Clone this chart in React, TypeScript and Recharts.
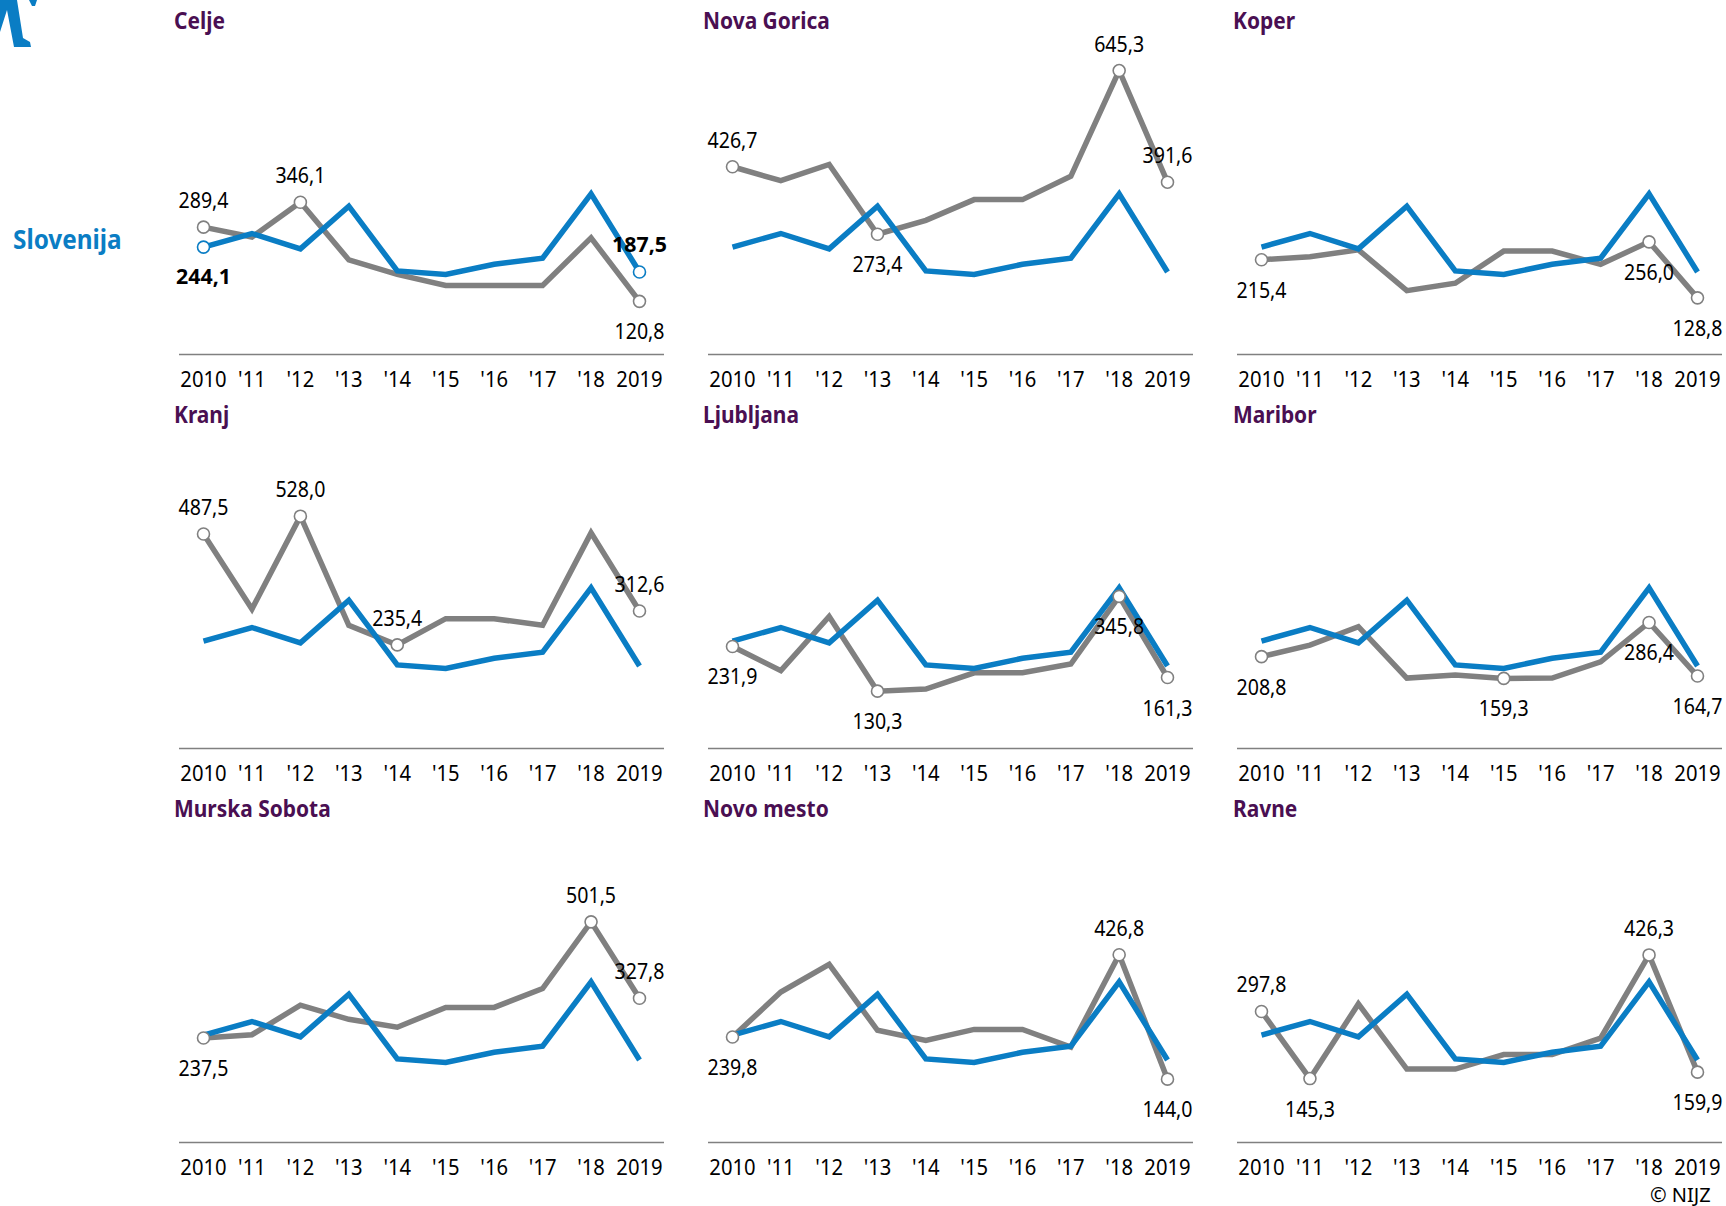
import { LineChart, Line, XAxis, YAxis } from "recharts";

const FONT = "'Noto Sans', sans-serif";
const GRAY = "#808080";
const BLUE = "#0a7dc4";
const PURPLE = "#4a0f52";

// Tick labels for the x axis
const yearLabels = ["2010", "'11", "'12", "'13", "'14", "'15", "'16", "'17", "'18", "2019"];

// Slovenian average, same in all panels
const slovenija = [244.1, 275, 240, 337, 190, 182, 205, 219, 365, 187.5];

// Regional values
const celje = [289.4, 267, 346.1, 215, 182, 157, 157, 157, 265, 120.8];
const novaGorica = [426.7, 395, 432, 273.4, 305, 352, 352, 405, 645.3, 391.6];
const koper = [215.4, 222, 238, 145, 162, 235, 235, 205, 256.0, 128.8];
const kranj = [487.5, 317, 528.0, 280, 235.4, 295, 295, 280, 490, 312.6];
const ljubljana = [231.9, 177, 300, 130.3, 135, 172, 172, 192, 345.8, 161.3];
const maribor = [208.8, 235, 277, 160, 167, 159.3, 160, 197, 286.4, 164.7];
const murskaSobota = [237.5, 245, 312, 280, 262, 307, 307, 350, 501.5, 327.8];
const novoMesto = [239.8, 342, 405, 255, 232, 257, 257, 217, 426.8, 144.0];
const ravne = [297.8, 145.3, 315, 167, 167, 200, 200, 237, 426.3, 159.9];

// Which points get a marker, and whether the label sits above or below
const panels = [
  { name: "Celje", values: celje, above: [0, 2], below: [9] },
  { name: "Nova Gorica", values: novaGorica, above: [0, 8, 9], below: [3] },
  { name: "Koper", values: koper, above: [], below: [0, 8, 9] },
  { name: "Kranj", values: kranj, above: [0, 2, 4, 9], below: [] },
  { name: "Ljubljana", values: ljubljana, above: [], below: [0, 3, 8, 9] },
  { name: "Maribor", values: maribor, above: [], below: [0, 5, 8, 9] },
  { name: "Murska Sobota", values: murskaSobota, above: [8, 9], below: [0] },
  { name: "Novo mesto", values: novoMesto, above: [8], below: [0, 9] },
  { name: "Ravne", values: ravne, above: [0, 8], below: [1, 9] },
];

const formatValue = (v: number) => v.toFixed(1).replace(".", ",");

const renderDot = (marked: number[], color: string) => (props: any) => {
  if (!marked.includes(props.index)) return <g key={props.index} />;
  return (
    <circle
      key={props.index}
      cx={props.cx}
      cy={props.cy}
      r={6}
      fill="#fff"
      stroke={color}
      strokeWidth={1.6}
    />
  );
};

const renderLabel = (above: number[], below: number[], bold: boolean) => (props: any) => {
  const isAbove = above.includes(props.index);
  if (!isAbove && !below.includes(props.index)) return <g key={props.index} />;
  const baseline = props.y + (isAbove ? (bold ? -20 : -19) : bold ? 37 : 38);
  return (
    <text
      key={props.index}
      transform={`translate(${props.x},${baseline}) scale(${bold ? 0.97 : 0.89},1)`}
      textAnchor="middle"
      fontFamily={FONT}
      fontSize={22}
      fontWeight={bold ? 700 : 400}
      fill="#000"
    >
      {formatValue(props.value)}
    </text>
  );
};

// Squeezed a little so the text is as tall and as narrow as the original
const YearTick = (props: any) => (
  <text
    transform={`translate(${props.x},${props.y + 26}) scale(0.92,1)`}
    textAnchor="middle"
    fontFamily={FONT}
    fontSize={22}
    fill="#000"
  >
    {props.payload.value}
  </text>
);

function Panel({ panel, index }: { panel: (typeof panels)[number]; index: number }) {
  const col = index % 3;
  const row = Math.floor(index / 3);
  const showBlueMarks = index === 0;
  const data = yearLabels.map((year, i) => ({
    year,
    region: panel.values[i],
    slo: slovenija[i],
  }));

  return (
    <div style={{ position: "absolute", left: [179, 708, 1237][col], top: 8 + row * 394 }}>
      <div
        style={{
          position: "absolute",
          left: [-5, -5, -4][col],
          top: -3,
          fontFamily: FONT,
          fontSize: 23,
          fontWeight: 700,
          lineHeight: "30px",
          color: PURPLE,
          whiteSpace: "nowrap",
          transform: "scaleX(0.91)",
          transformOrigin: "left",
        }}
      >
        {panel.name}
      </div>
      {/* Side margins leave room for labels wider than the axis */}
      <div style={{ position: "absolute", left: -10, top: 0 }}>
        <LineChart
          width={501}
          height={390}
          data={data}
          margin={{ top: 38.5, right: 6, bottom: 0, left: 10 }}
        >
          <YAxis hide domain={[0, 700]} />
          <XAxis
            dataKey="year"
            interval={0}
            padding={{ left: 24.5, right: col === 1 ? 25.5 : 24.5 }}
            tickLine={false}
            axisLine={{ stroke: GRAY, strokeWidth: 1.5 }}
            tick={YearTick}
            tickMargin={0}
            height={43.5}
          />
          <Line
            dataKey="region"
            stroke={GRAY}
            strokeWidth={5.5}
            strokeLinejoin="miter"
            strokeLinecap="butt"
            isAnimationActive={false}
            dot={renderDot([...panel.above, ...panel.below], GRAY)}
            label={renderLabel(panel.above, panel.below, false)}
          />
          <Line
            dataKey="slo"
            stroke={BLUE}
            strokeWidth={5.5}
            strokeLinejoin="miter"
            strokeLinecap="butt"
            isAnimationActive={false}
            dot={renderDot(showBlueMarks ? [0, 9] : [], BLUE)}
            label={renderLabel(showBlueMarks ? [9] : [], showBlueMarks ? [0] : [], true)}
          />
        </LineChart>
      </div>
    </div>
  );
}

export default function App() {
  return (
    <div style={{ position: "absolute", left: 0, top: 0, width: 1726, height: 1206, background: "#fff", overflow: "hidden" }}>
      {/* Feet of the figure that is cut off by the top of the page */}
      <svg width={40} height={50} style={{ position: "absolute", left: 0, top: 0 }}>
        <path d="M0 0H17L23 38L30 42L31 47H14L7 10L0 32Z" fill={BLUE} />
        <path d="M29 0H37L35 6H32Z" fill={BLUE} />
      </svg>
      {panels.map((panel, i) => (
        <Panel key={panel.name} panel={panel} index={i} />
      ))}
      <div
        style={{
          position: "absolute",
          left: 13,
          top: 221,
          fontFamily: FONT,
          fontSize: 27,
          fontWeight: 700,
          lineHeight: "36px",
          color: BLUE,
          transform: "scaleX(0.9)",
          transformOrigin: "left",
        }}
      >
        Slovenija
      </div>
      <div
        style={{
          position: "absolute",
          left: 1650,
          top: 1186,
          fontFamily: FONT,
          fontSize: 20,
          lineHeight: "18px",
          color: "#000",
        }}
      >
        © NIJZ
      </div>
    </div>
  );
}
